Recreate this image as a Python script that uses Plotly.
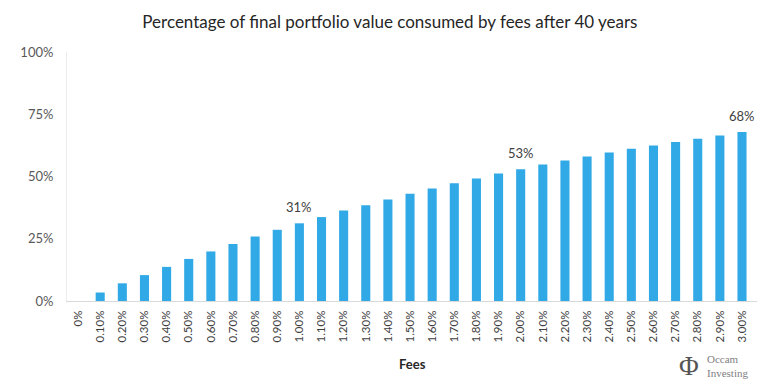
import plotly.graph_objects as go

fees = ["0%", "0.10%", "0.20%", "0.30%", "0.40%", "0.50%", "0.60%", "0.70%", "0.80%", "0.90%",
        "1.00%", "1.10%", "1.20%", "1.30%", "1.40%", "1.50%", "1.60%", "1.70%", "1.80%", "1.90%",
        "2.00%", "2.10%", "2.20%", "2.30%", "2.40%", "2.50%", "2.60%", "2.70%", "2.80%", "2.90%", "3.00%"]
consumed = [0.0, 3.4, 7.1, 10.4, 13.7, 16.9, 19.9, 22.9, 25.9, 28.6,
            31.2, 33.7, 36.3, 38.5, 40.8, 43.1, 45.2, 47.3, 49.2, 51.2,
            52.9, 54.8, 56.4, 58.0, 59.6, 61.1, 62.5, 63.9, 65.2, 66.5, 67.9]
labelled = {10: "31%", 20: "53%", 30: "68%"}

y_ticks = [0, 25, 50, 75, 100]
y_tick_text = ["0%", "25%", "50%", "75%", "100%"]

FONT = "Lato"

fig = go.Figure()
fig.add_trace(go.Bar(
    x=fees, y=consumed,
    marker=dict(color="#30A9E6", line=dict(width=0)),
    hoverinfo="x+y",
))

annotations = []
for i, txt in labelled.items():
    annotations.append(dict(x=fees[i], y=consumed[i], text=txt, xref="x", yref="y",
                            xanchor="center", yanchor="bottom", yshift=6, showarrow=False,
                            font=dict(family=FONT, size=13, color="#404040")))
annotations += [
    dict(text="<b>Fees</b>", xref="paper", yref="paper", x=0.5, y=-0.2545,
         xanchor="center", yanchor="middle", showarrow=False,
         font=dict(family=FONT, size=13, color="#262626")),
    dict(text="Φ", xref="paper", yref="paper", x=0.901, y=-0.262, xanchor="center", yanchor="middle",
         showarrow=False, font=dict(family="Liberation Serif", size=27, color="#555555")),
    dict(text="Occam", xref="paper", yref="paper", x=0.924, y=-0.232, xanchor="left",
         yanchor="middle", showarrow=False,
         font=dict(family="Liberation Serif", size=11, color="#808080")),
    dict(text="Investing", xref="paper", yref="paper", x=0.924, y=-0.288, xanchor="left",
         yanchor="middle", showarrow=False,
         font=dict(family="Liberation Serif", size=11, color="#808080")),
]

fig.update_layout(
    width=770, height=385,
    margin=dict(l=43, r=21, t=44, b=91.5),
    paper_bgcolor="white", plot_bgcolor="white",
    bargap=0.59,
    showlegend=False,
    title=dict(text="Percentage of final portfolio value consumed by fees after 40 years",
               x=0.496, xanchor="center", y=0.9636, yanchor="middle",
               font=dict(family=FONT, size=17, color="#262626")),
    xaxis=dict(
        type="category", tickangle=-90, showgrid=False,
        showline=True, linecolor="#d9d9d9", linewidth=1,
        ticks="", tickfont=dict(family=FONT, size=11.5, color="#404040"),
        ticklabelstandoff=4,
    ),
    yaxis=dict(
        range=[0, 100], tickvals=y_ticks, ticktext=y_tick_text,
        showgrid=False, zeroline=False,
        showline=True, linecolor="#ececec", linewidth=1,
        ticks="", tickfont=dict(family=FONT, size=13, color="#595959"),
        ticklabelstandoff=10,
    ),
    annotations=annotations,
)

fig.write_html("out.html")
